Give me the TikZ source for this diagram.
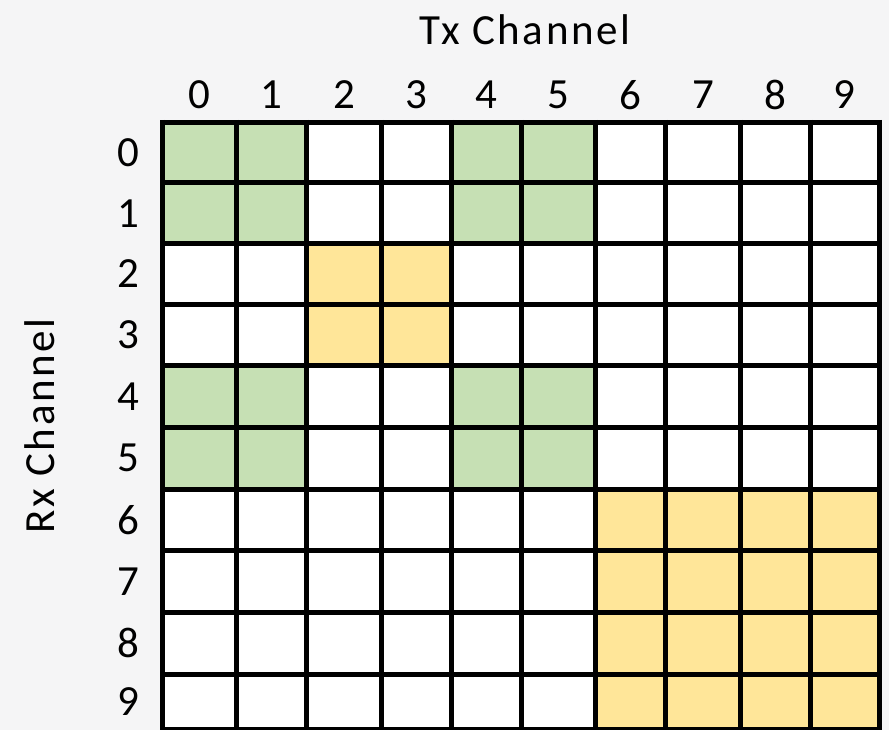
\documentclass[tikz,border=0pt]{standalone}
\usepackage{fontspec}
\setmainfont{Carlito}
\newfontfamily\spacedfont[LetterSpace=6]{Carlito}
\definecolor{bggray}{HTML}{F5F5F6}
\definecolor{cellgreen}{HTML}{C6E0B4}
\definecolor{cellyellow}{HTML}{FFE699}
\tikzset{
  gridline/.style={line width=5pt, black},
  lbl/.style={font=\fontsize{43}{43}\selectfont, inner sep=0pt, anchor=center},
  title/.style={font=\spacedfont\fontsize{43}{43}\selectfont, inner sep=0pt, anchor=center},
}
\begin{document}
\begin{tikzpicture}[x=1pt,y=-1pt]
\fill[bggray] (0,0) rectangle (889,730);
\useasboundingbox (0,0) rectangle (889,730);
\def\xs{{162.5,236.5,306.5,381.5,451.5,521.5,595.5,665.5,740.5,810.5,879}}
\def\ys{{122.5,182.5,244,304,365.5,427.5,489,550.5,612.5,674,729.5}}
% white cell area
\fill[white] (162.5,122.5) rectangle (879,729.5);
% green cells: rows 0,1,4,5 x cols 0,1,4,5
\foreach \r in {0,1,4,5}{
  \foreach \c in {0,1,4,5}{
    \pgfmathsetmacro\xa{\xs[\c]}\pgfmathsetmacro\xb{\xs[\c+1]}
    \pgfmathsetmacro\ya{\ys[\r]}\pgfmathsetmacro\yb{\ys[\r+1]}
    \fill[cellgreen] (\xa,\ya) rectangle (\xb,\yb);
  }
}
% yellow cells rows 2,3 cols 2,3
\fill[cellyellow] (306.5,244) rectangle (451.5,365.5);
% yellow block rows 6-9 cols 6-9
\fill[cellyellow] (595.5,489) rectangle (879,729.5);
% grid lines
\foreach \i in {0,...,10}{
  \pgfmathsetmacro\xx{\xs[\i]}
  \draw[gridline] (\xx,120) -- (\xx,732);
  \pgfmathsetmacro\yy{\ys[\i]}
  \draw[gridline] (160,\yy) -- (881.5,\yy);
}
% column labels
\foreach \c in {0,...,9}{
  \pgfmathsetmacro\xa{\xs[\c]}\pgfmathsetmacro\xb{\xs[\c+1]}
  \pgfmathsetmacro\xm{(\xa+\xb)/2}
  \node[lbl] (col\c) at (\xm,95) {\c};
}
% row labels
\foreach \r in {0,...,9}{
  \pgfmathsetmacro\ya{\ys[\r]}\pgfmathsetmacro\yb{\ys[\r+1]}
  \pgfmathsetmacro\ym{(\ya+\yb)/2}
  \node[lbl] (row\r) at (128,\ym) {\r};
}
\node[title] (tx) at (525,30) {Tx Channel};
\node[title, rotate=90] (rx) at (40,426) {Rx Channel};
\end{tikzpicture}
\end{document}
